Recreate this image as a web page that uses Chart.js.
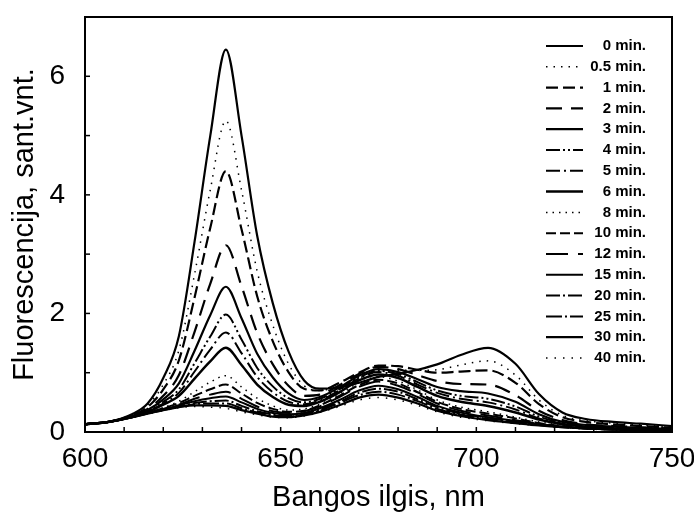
<!DOCTYPE html>
<html lang="lt">
<head>
    <meta charset="UTF-8">
    <title>Fluorescencija</title>
    <script src="https://cdn.jsdelivr.net/npm/chart.js"></script>
    <style>
        html, body { margin: 0; padding: 0; background: #fff; }
        canvas { display: block; }
    </style>
    <script>
        // wavelength grid, nm
        const wavelength = [600, 606, 612, 616, 620, 624, 628, 632, 636, 640, 644, 648, 652, 656, 660,
                            665, 670, 675, 680, 685, 690, 696, 703, 710, 716, 722, 728, 735, 742, 750];

        // spectra after each irradiation time
        const t0  = [0.13,0.17,0.30,0.48,0.91,1.62,3.21,4.99,6.45,5.00,3.31,2.17,1.36,0.87,0.73,0.75,0.83,0.93,0.98,1.05,1.14,1.30,1.42,1.15,0.64,0.33,0.22,0.17,0.14,0.10];
        const t05 = [0.13,0.17,0.29,0.45,0.80,1.38,2.66,4.08,5.25,4.08,2.71,1.80,1.15,0.78,0.70,0.78,0.91,1.02,1.04,1.04,1.05,1.13,1.20,0.96,0.54,0.28,0.19,0.15,0.12,0.08];
        const t1  = [0.13,0.17,0.28,0.42,0.72,1.21,2.27,3.44,4.40,3.42,2.29,1.53,1.01,0.73,0.70,0.83,1.00,1.12,1.11,1.05,1.00,1.02,1.04,0.83,0.47,0.25,0.17,0.13,0.10,0.07];
        const t2  = [0.13,0.17,0.27,0.39,0.61,0.96,1.69,2.50,3.15,2.46,1.67,1.14,0.78,0.61,0.63,0.79,0.98,1.10,1.06,0.96,0.86,0.81,0.80,0.62,0.36,0.20,0.13,0.10,0.08,0.06];
        const t3  = [0.13,0.17,0.27,0.37,0.55,0.82,1.37,1.97,2.45,1.92,1.32,0.92,0.65,0.54,0.59,0.75,0.95,1.06,1.01,0.89,0.76,0.69,0.65,0.51,0.30,0.17,0.12,0.09,0.07,0.05];
        const t4  = [0.13,0.17,0.26,0.36,0.51,0.72,1.16,1.61,1.98,1.56,1.08,0.77,0.57,0.50,0.56,0.72,0.92,1.03,0.98,0.84,0.70,0.61,0.56,0.43,0.26,0.15,0.10,0.08,0.06,0.04];
        const t5  = [0.13,0.17,0.26,0.35,0.48,0.66,1.02,1.39,1.68,1.33,0.93,0.67,0.51,0.47,0.53,0.70,0.90,1.01,0.95,0.80,0.66,0.56,0.50,0.38,0.23,0.14,0.09,0.07,0.05,0.04];
        const t6  = [0.13,0.17,0.26,0.34,0.46,0.61,0.90,1.19,1.42,1.13,0.80,0.59,0.46,0.44,0.51,0.67,0.87,0.97,0.91,0.76,0.61,0.51,0.44,0.33,0.21,0.13,0.09,0.06,0.05,0.03];
        const t8  = [0.13,0.17,0.26,0.33,0.41,0.52,0.68,0.84,0.95,0.76,0.57,0.44,0.37,0.39,0.47,0.64,0.83,0.93,0.86,0.71,0.54,0.42,0.34,0.25,0.17,0.11,0.07,0.05,0.04,0.03];
        const t10 = [0.13,0.17,0.25,0.32,0.40,0.49,0.61,0.72,0.80,0.65,0.49,0.39,0.34,0.36,0.45,0.61,0.79,0.88,0.82,0.67,0.51,0.39,0.31,0.23,0.15,0.10,0.07,0.05,0.04,0.03];
        const t12 = [0.13,0.17,0.25,0.32,0.39,0.46,0.56,0.63,0.68,0.56,0.43,0.35,0.32,0.35,0.43,0.59,0.76,0.85,0.78,0.64,0.48,0.36,0.28,0.20,0.14,0.09,0.07,0.05,0.04,0.02];
        const t15 = [0.13,0.17,0.25,0.32,0.38,0.45,0.52,0.57,0.60,0.50,0.39,0.32,0.30,0.32,0.40,0.54,0.70,0.78,0.72,0.59,0.44,0.33,0.25,0.19,0.13,0.09,0.06,0.05,0.03,0.02];
        const t20 = [0.13,0.17,0.25,0.32,0.38,0.43,0.49,0.52,0.53,0.44,0.35,0.30,0.28,0.31,0.38,0.51,0.66,0.73,0.68,0.55,0.42,0.31,0.24,0.17,0.12,0.09,0.06,0.04,0.03,0.02];
        const t25 = [0.13,0.17,0.25,0.31,0.37,0.42,0.47,0.48,0.48,0.40,0.33,0.28,0.26,0.30,0.36,0.49,0.62,0.68,0.63,0.52,0.39,0.29,0.22,0.16,0.12,0.08,0.06,0.04,0.03,0.02];
        const t30 = [0.13,0.17,0.25,0.31,0.37,0.42,0.45,0.45,0.44,0.37,0.31,0.26,0.25,0.28,0.34,0.45,0.58,0.63,0.58,0.48,0.36,0.27,0.20,0.15,0.11,0.08,0.06,0.04,0.03,0.02];
        const t40 = [0.13,0.17,0.25,0.31,0.36,0.41,0.43,0.42,0.40,0.34,0.29,0.25,0.24,0.27,0.33,0.43,0.54,0.58,0.54,0.45,0.34,0.25,0.19,0.14,0.11,0.08,0.05,0.04,0.03,0.02];

        const timeLabels = ['0 min.', '0.5 min.', '1 min.', '2 min.', '3 min.', '4 min.', '5 min.', '6 min.',
                            '8 min.', '10 min.', '12 min.', '15 min.', '20 min.', '25 min.', '30 min.', '40 min.'];
        const spectra = [t0, t05, t1, t2, t3, t4, t5, t6, t8, t10, t12, t15, t20, t25, t30, t40];

        // line style for every curve, same order as the legend
        const dashes = [[], [1.5, 6], [12, 5], [16, 9], [], [14, 3, 2, 3, 2, 3], [14, 4, 2, 4], [],
                        [1.5, 5], [10, 4], [22, 10], [], [14, 3, 2, 3], [16, 3, 2, 3], [], [1.5, 7]];
        const widths = [2.2, 1.5, 2.2, 2.2, 2.2, 2, 2, 2.5, 1.5, 2, 2, 2, 2, 2, 2.2, 1.5];

        const FONT = "'Liberation Sans', Arial, sans-serif";

        // frame, inward ticks and the legend inside the plot
        const framePlugin = {
            id: 'frame',
            afterDraw(chart) {
                const c = chart.ctx;
                const a = chart.chartArea;
                c.save();
                c.strokeStyle = '#000';
                c.setLineDash([]);
                c.lineWidth = 1.5;
                chart.scales.x.ticks.forEach(t => {
                    const px = chart.scales.x.getPixelForValue(t.value);
                    c.beginPath();
                    c.moveTo(px, a.bottom);
                    c.lineTo(px, a.bottom - 5);
                    c.stroke();
                });
                chart.scales.y.ticks.forEach(t => {
                    const py = chart.scales.y.getPixelForValue(t.value);
                    c.beginPath();
                    c.moveTo(a.left, py);
                    c.lineTo(a.left + 5, py);
                    c.stroke();
                });
                c.lineWidth = 2;
                c.strokeRect(a.left, a.top, a.right - a.left, a.bottom - a.top);

                // legend
                c.font = 'bold 15px ' + FONT;
                c.textAlign = 'right';
                c.textBaseline = 'middle';
                c.fillStyle = '#000';
                chart.data.datasets.forEach((ds, i) => {
                    const y = a.top + 29 + i * 20.8;
                    c.lineWidth = ds.borderWidth;
                    c.setLineDash(ds.borderDash);
                    c.beginPath();
                    c.moveTo(a.left + 461, y);
                    c.lineTo(a.left + 498, y);
                    c.stroke();
                    c.setLineDash([]);
                    c.fillText(ds.label, a.left + 561, y);
                });
                c.restore();
            }
        };

        window.onload = function() {
            const datasets = spectra.map((s, i) => ({
                label: timeLabels[i],
                data: wavelength.map((w, j) => ({ x: w, y: s[j] })),
                borderColor: '#000',
                borderWidth: widths[i],
                borderDash: dashes[i],
                pointRadius: 0,
                fill: false,
                cubicInterpolationMode: 'monotone'
            }));

            const ctx = document.getElementById('Chart').getContext('2d');
            new Chart(ctx, {
                type: 'line',
                data: { datasets: datasets },
                options: {
                    responsive: false,
                    animation: false,
                    layout: { padding: { top: 17, right: 22, left: 0, bottom: 0 } },
                    plugins: {
                        legend: { display: false },
                        tooltip: { enabled: false }
                    },
                    scales: {
                        x: {
                            type: 'linear',
                            min: 600,
                            max: 750,
                            grid: { display: false },
                            border: { display: false },
                            afterFit: s => { s.height = 86; s.paddingLeft = 0; s.paddingRight = 0; },
                            ticks: {
                                stepSize: 10,
                                autoSkip: false,
                                maxRotation: 0,
                                padding: 2,
                                color: '#000',
                                font: { family: FONT, size: 28 },
                                callback: v => (v % 50 === 0 ? v : '')
                            },
                            title: {
                                display: true,
                                text: 'Bangos ilgis, nm',
                                color: '#000',
                                font: { family: FONT, size: 29 },
                                padding: { top: 0, bottom: 3 }
                            }
                        },
                        y: {
                            min: 0,
                            max: 7,
                            grid: { display: false },
                            border: { display: false },
                            afterFit: s => { s.width = 85; s.paddingTop = 0; s.paddingBottom = 0; },
                            ticks: {
                                stepSize: 1,
                                autoSkip: false,
                                padding: 12,
                                color: '#000',
                                font: { family: FONT, size: 28 },
                                callback: v => (v % 2 === 0 ? v : '')
                            },
                            title: {
                                display: true,
                                text: 'Fluorescencija, sant.vnt.',
                                color: '#000',
                                font: { family: FONT, size: 29 },
                                padding: { top: 8, bottom: 0 }
                            }
                        }
                    }
                },
                plugins: [framePlugin]
            });
        };
    </script>
</head>
<body>
    <canvas id="Chart" width="694" height="518"></canvas>
</body>
</html>
